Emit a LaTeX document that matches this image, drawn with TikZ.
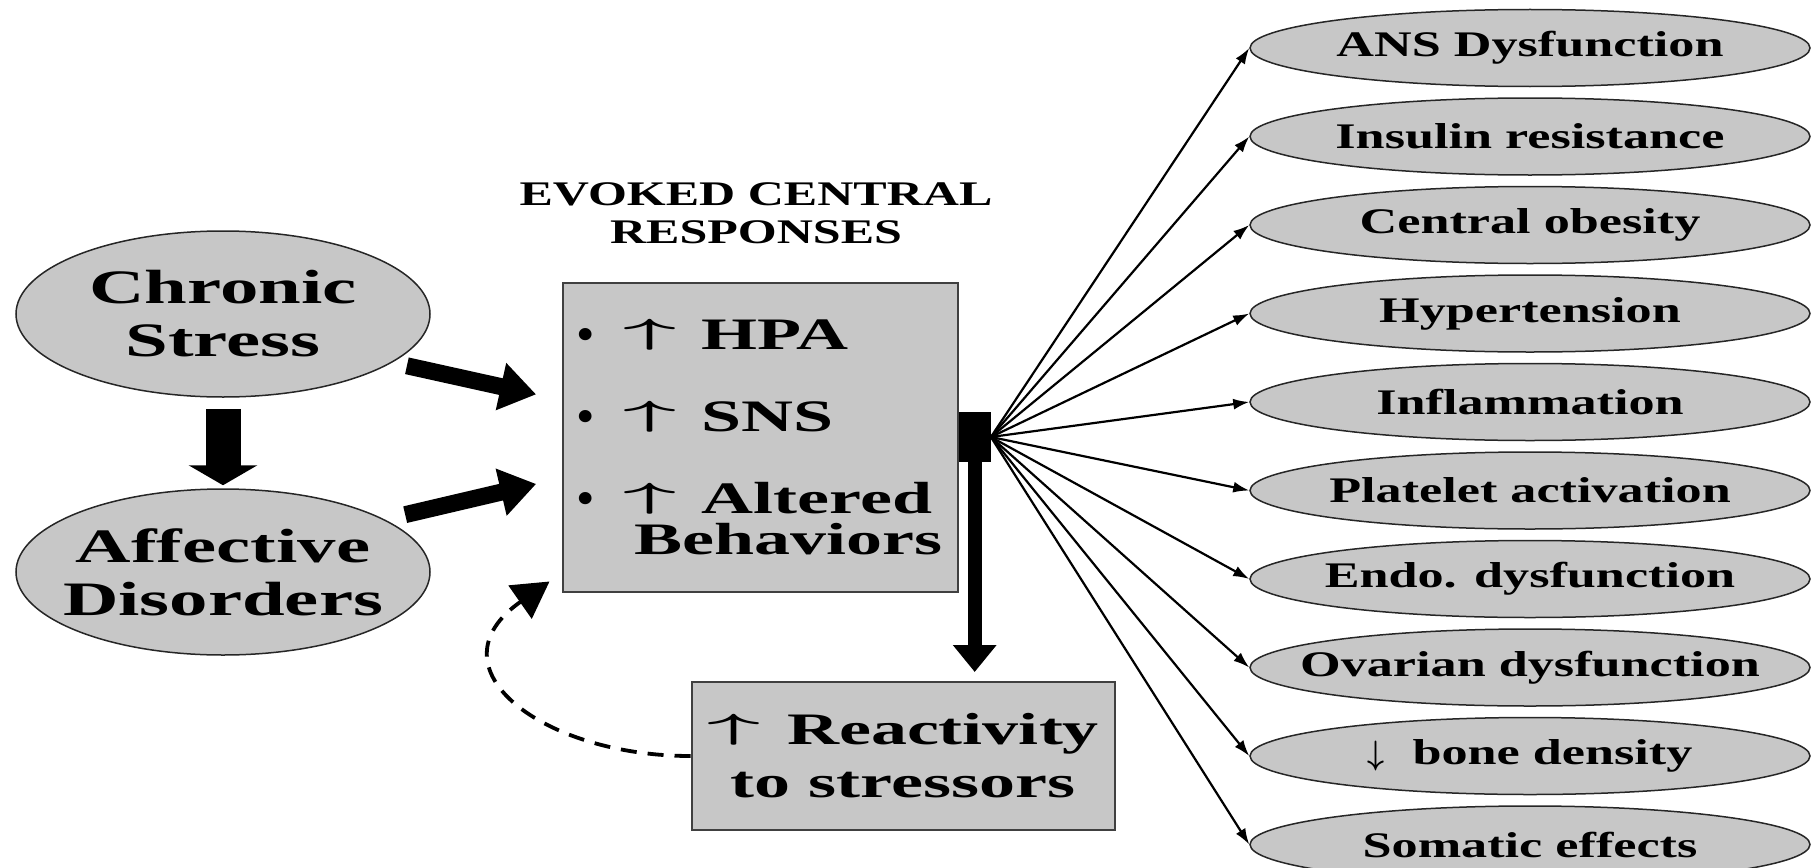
\documentclass[tikz,border=0pt]{standalone}
\usepackage{amsmath}
\usepackage{fontspec}
\setmainfont{Liberation Serif}[FakeStretch=1.6]
\newfontfamily\outfont{Liberation Serif}[FakeStretch=1.45]
\usepackage{tikz}
\usetikzlibrary{arrows.meta, positioning, shapes.geometric}

\newcommand{\upar}{\resizebox{53pt}{31pt}{\raisebox{\depth}{$\boldsymbol{\uparrow}$}}}
\newcommand{\downar}{\raisebox{-6pt}{\resizebox{17pt}{30pt}{\raisebox{\depth}{$\boldsymbol{\downarrow}$}}}}
\newcommand{\bulletmark}{\scalebox{0.65}[1]{•}}

\begin{document}
\begin{tikzpicture}[
    x=1pt, y=-1pt,
    node distance=10pt,
    cause/.style={
        ellipse,
        draw=black!85,
        fill=black!22,
        line width=1.5pt,
        inner xsep=-20pt,
        minimum width=414pt,
        minimum height=166pt,
        align=center,
        font=\fontsize{48}{53}\selectfont\bfseries
    },
    outcome/.style={
        ellipse,
        draw=black!85,
        fill=black!22,
        line width=1.5pt,
        inner xsep=-40pt,
        minimum width=560pt,
        minimum height=77pt,
        font=\outfont\fontsize{36}{40}\selectfont\bfseries
    },
    panel/.style={
        rectangle,
        draw=black!75,
        fill=black!22,
        line width=2pt,
        font=\fontsize{45}{41}\selectfont\bfseries
    },
    fat/.style={line width=17pt, -{Triangle[length=36pt,width=46pt]}},
    ray/.style={line width=2.2pt, -{Latex[length=16pt,width=11pt]}},
    feedback/.style={line width=3.8pt, dash pattern=on 16pt off 11pt, -{Triangle[length=36pt,width=40pt]}}
]
\useasboundingbox (0,0) rectangle (1819,867);

\node[font=\outfont\fontsize{34.5}{38}\selectfont\bfseries, align=center] (title) at (756,213) {EVOKED CENTRAL\\RESPONSES};

\node[cause] (chronic) at (223,314) {Chronic\\Stress};
\node[cause] (affective) at (223,572) {Affective\\Disorders};

\node[panel, minimum width=395pt, minimum height=309pt, align=left] (evoked) at (760,437)
    {\bulletmark\hspace{30pt}\upar\hspace{25pt}HPA\\[41pt]
     \bulletmark\hspace{30pt}\upar\hspace{25pt}SNS\\[41pt]
     \bulletmark\hspace{30pt}\upar\hspace{25pt}Altered\\
     \hspace*{57pt}Behaviors};
\node[rectangle, fill=black, inner sep=0pt, minimum width=32pt, minimum height=50pt, right=0pt of evoked] (hub) {};

\node[panel, minimum width=423pt, minimum height=148pt, align=center, font=\fontsize{45}{53}\selectfont\bfseries] (react) at (903,756)
    {\upar\hspace{27pt}Reactivity\\to stressors};

\node[outcome] (o1) at (1530,48) {ANS Dysfunction};
\node[outcome, below=of o1] (o2) {Insulin resistance};
\node[outcome, below=of o2] (o3) {Central obesity};
\node[outcome, below=of o3] (o4) {Hypertension};
\node[outcome, below=of o4] (o5) {Inflammation};
\node[outcome, below=of o5] (o6) {Platelet activation};
\node[outcome, below=of o6] (o7) {Endo. dysfunction};
\node[outcome, below=of o7] (o8) {Ovarian dysfunction};
\node[outcome, below=of o8] (o9) {\downar\hspace{28pt}bone density};
\node[outcome, below=of o9] (o10) {Somatic effects};

\draw[line width=35pt, -{Triangle[length=20pt,width=68pt]}, shorten <=11pt, shorten >=3pt] (chronic) -- (affective);
\draw[fat, shorten <=15pt, shorten >=26pt] (chronic.-16) -- ([yshift=37pt]evoked.west);
\draw[fat, shorten <=21pt, shorten >=26pt] (affective.18) -- ([yshift=-41pt]evoked.west);

\draw[line width=14pt, -{Triangle[length=27pt,width=42pt]}, shorten >=9pt] (hub.south) -- (hub.south |- react.north);
\foreach \i in {1,...,10}
    \draw[ray] (hub.east) -- (o\i.west);

\draw[feedback] (react.west) to[out=180, in=215, looseness=1.7] ([xshift=-12pt, yshift=11pt]evoked.south west);

\end{tikzpicture}
\end{document}
